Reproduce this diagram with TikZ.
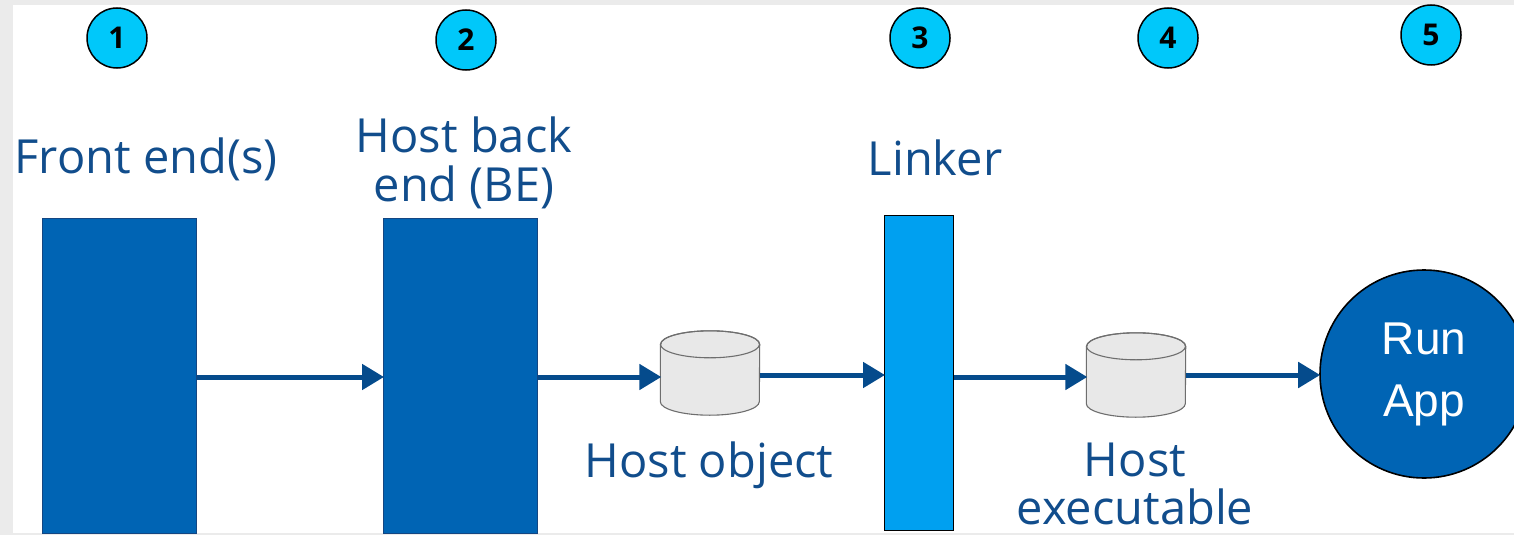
\documentclass[tikz,border=0pt]{standalone}
\usepackage{fontspec}
\setmainfont{Open Sans}
\newfontfamily\arialfont{Liberation Sans}
\usetikzlibrary{arrows.meta}

\definecolor{framegrey}{RGB}{235,235,235}
\definecolor{stageblue}{RGB}{0,100,180}
\definecolor{stageedge}{RGB}{20,70,130}
\definecolor{linkerblue}{RGB}{0,160,240}
\definecolor{badgecyan}{RGB}{0,200,250}
\definecolor{labelblue}{RGB}{17,77,140}
\definecolor{flowblue}{RGB}{5,75,140}
\definecolor{diskfill}{RGB}{232,232,232}
\definecolor{diskedge}{RGB}{110,110,110}

\tikzset{
  x=1pt, y=-1pt,
  badge/.style={circle, draw=black, line width=1.5pt, fill=badgecyan,
    minimum size=60pt, inner sep=0pt,
    font=\fontsize{30}{34}\selectfont\bfseries, text=black},
  stagebox/.style={draw=stageedge, line width=1pt, fill=stageblue},
  linkerbox/.style={draw=black, line width=1.4pt, fill=linkerblue},
  label/.style={anchor=base, inner sep=0pt, text=labelblue,
    font=\fontsize{47}{52}\selectfont},
  disk/.style={inner sep=0pt, minimum width=99pt, minimum height=84pt},
  flow/.style={draw=flowblue, line width=5pt,
    -{Triangle[length=22pt,width=25pt]}, shorten >=-1pt},
}

\newcommand{\diskshape}[1]{%
  \filldraw[fill=diskfill, draw=diskedge, line width=1.1pt]
    ([yshift=-13.5pt]#1.north west)
    -- ([yshift=13.5pt]#1.south west)
    arc[start angle=180, end angle=360, x radius=49.5pt, y radius=13.5pt]
    -- ([yshift=-13.5pt]#1.north east)
    arc[start angle=0, end angle=180, x radius=49.5pt, y radius=13.5pt]
    -- cycle;
  \draw[draw=diskedge, line width=1.1pt]
    ([yshift=-13.5pt]#1.north) ellipse[x radius=49.5pt, y radius=13.5pt];%
}

\begin{document}
\begin{tikzpicture}
  % page frame
  \clip (0,0) rectangle (1514,535);
  \fill[framegrey] (0,0) rectangle (1514,535);
  \fill[white] (13,5) rectangle (1514,533);

  % step badges
  \node[badge] (b1) at (117,38) {1};
  \node[badge] (b2) at (466,40) {2};
  \node[badge] (b3) at (920,38) {3};
  \node[badge] (b4) at (1168,38) {4};
  \node[badge] (b5) at (1431,35) {5};

  % stage headings
  \node[label] (lfe)  at (146,173) {Front end(s)};
  \node[label] (lbe1) at (464,152) {Host back};
  \node[label] (lbe2) at (464,201) {end (BE)};
  \node[label] (llk)  at (935,175) {Linker};

  % stages
  \node[stagebox, minimum width=154pt, minimum height=315pt, inner sep=0pt,
        anchor=north west] (fe) at (42,218) {};
  \node[stagebox, minimum width=154pt, minimum height=315pt, inner sep=0pt,
        anchor=north west] (be) at (383,218) {};
  \node[linkerbox, minimum width=69pt, minimum height=315pt, inner sep=0pt,
        anchor=north west] (lk) at (884,215) {};

  % artefacts
  \node[disk] (obj) at (710,373) {};
  \diskshape{obj}
  \node[disk] (exe) at (1136,375) {};
  \diskshape{exe}
  \node[label] (lobj)  at (709,477) {Host object};
  \node[label] (lexe1) at (1135,476) {Host};
  \node[label] (lexe2) at (1135,524) {executable};

  % run step
  \node[circle, draw=black, line width=1.6pt, fill=stageblue,
        minimum size=208pt, inner sep=0pt, text=white, align=center,
        font=\arialfont\fontsize{46}{62}\selectfont] (run) at (1424,374)
        {Run\\App};

  % flow
  \draw[flow] (fe.east |- 0,377) -- (be.west |- 0,377);
  \draw[flow] (be.east |- 0,377) -- (obj.west |- 0,377);
  \draw[flow] (obj.east |- 0,375) -- (lk.west |- 0,375);
  \draw[flow] (lk.east |- 0,377) -- (exe.west |- 0,377);
  \draw[flow] (exe.east |- 0,375) -- (run.west |- 0,375);
\end{tikzpicture}
\end{document}
